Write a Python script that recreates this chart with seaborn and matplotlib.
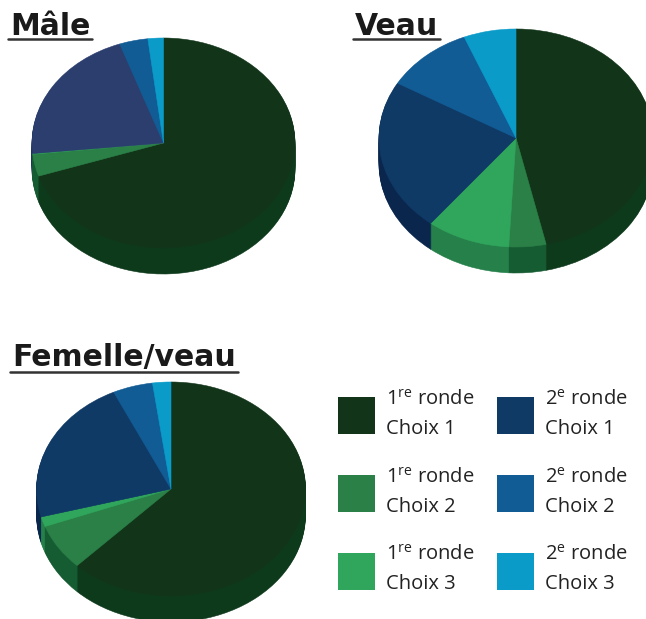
import matplotlib
matplotlib.use("Agg")
import matplotlib.pyplot as plt
from matplotlib.lines import Line2D
from matplotlib.patches import Patch
import seaborn as sns

sns.set_theme(style="white")
plt.rcParams['font.family'] = ['Open Sans', 'DejaVu Sans']
plt.rcParams['mathtext.default'] = 'regular'

categories = ["1$^{re}$ ronde\nChoix 1", "1$^{re}$ ronde\nChoix 2", "1$^{re}$ ronde\nChoix 3",
              "2$^{e}$ ronde\nChoix 1", "2$^{e}$ ronde\nChoix 2", "2$^{e}$ ronde\nChoix 3"]
male_values = [69.9, 3.4, 0.1, 21.2, 3.5, 1.9]
veau_values = [46.7, 4.4, 9.9, 22.8, 10.5, 6.2]
femelle_values = [62.3, 7.0, 1.5, 22.2, 4.8, 2.2]

top_colors = ["#12351a", "#2a8046", "#30a65c", "#0f3a66", "#125c96", "#0a9bc9"]
male_top = ["#12351a", "#2a8046", "#30a65c", "#2c3e6e", "#125c96", "#0a9bc9"]
side_colors = ["#0e3a1c", "#165c33", "#25804a", "#0a264d", "#0e4a78", "#087ca0"]

W, H = 646, 619
fig = plt.figure(figsize=(W / 100, H / 100), dpi=100)


def pie3d(values, top, cx, cy, rx, ry, depth):
    ax = fig.add_axes([(cx - rx) / W, (H - (cy + ry + depth)) / H,
                       2 * rx / W, (2 * ry + depth) / H])
    d = depth / ry

    def layer(colors, y):
        wedges, _ = ax.pie(values, colors=sns.color_palette(colors), startangle=90,
                           counterclock=False, center=(0, y),
                           wedgeprops=dict(linewidth=0.4, clip_on=False))
        for w in wedges:
            w.set_edgecolor(w.get_facecolor())

    for k in range(depth, 0, -1):
        layer(side_colors, -d * k / depth)
    layer(top, 0)
    ax.set_aspect("auto")
    ax.set_xlim(-1, 1)
    ax.set_ylim(-1 - d, 1)
    return ax


pie3d(male_values, male_top, 163.5, 143, 131.5, 105, 26)
pie3d(veau_values, top_colors, 516, 138, 137, 109, 26)
pie3d(femelle_values, top_colors, 171, 489, 134.5, 107, 26)

renderer = fig.canvas.get_renderer()
for label, x, base, gap in [("Mâle", 10, 35, 3.5), ("Veau", 355, 35, 3.5), ("Femelle/veau", 12, 366, 5.5)]:
    t = fig.text(x / W, 1 - base / H, label, fontsize=21.5, fontweight="bold", family="DejaVu Sans",
                 color="#1a1a1a", va="baseline", ha="left")
    bb = t.get_window_extent(renderer)
    y = 1 - (base + gap) / H
    fig.add_artist(Line2D([(bb.x0 - 2) / W, (bb.x1 + 2) / W], [y, y], color="#333333", lw=1.8))

handles = [Patch(facecolor=c, edgecolor="none") for c in top_colors]
leg = fig.legend(handles, categories, ncol=2, frameon=False, fontsize=14.5,
                 loc="upper left", bbox_to_anchor=(338 / W, 1 - 390 / H), bbox_transform=fig.transFigure,
                 borderpad=0, borderaxespad=0, handlelength=1.84, handleheight=2.45,
                 handletextpad=0.53, labelspacing=1.42, columnspacing=1.15, labelcolor="#222222")
for txt in leg.get_texts():
    txt.set_linespacing(1.6)

fig.savefig("out.png", dpi=100)
